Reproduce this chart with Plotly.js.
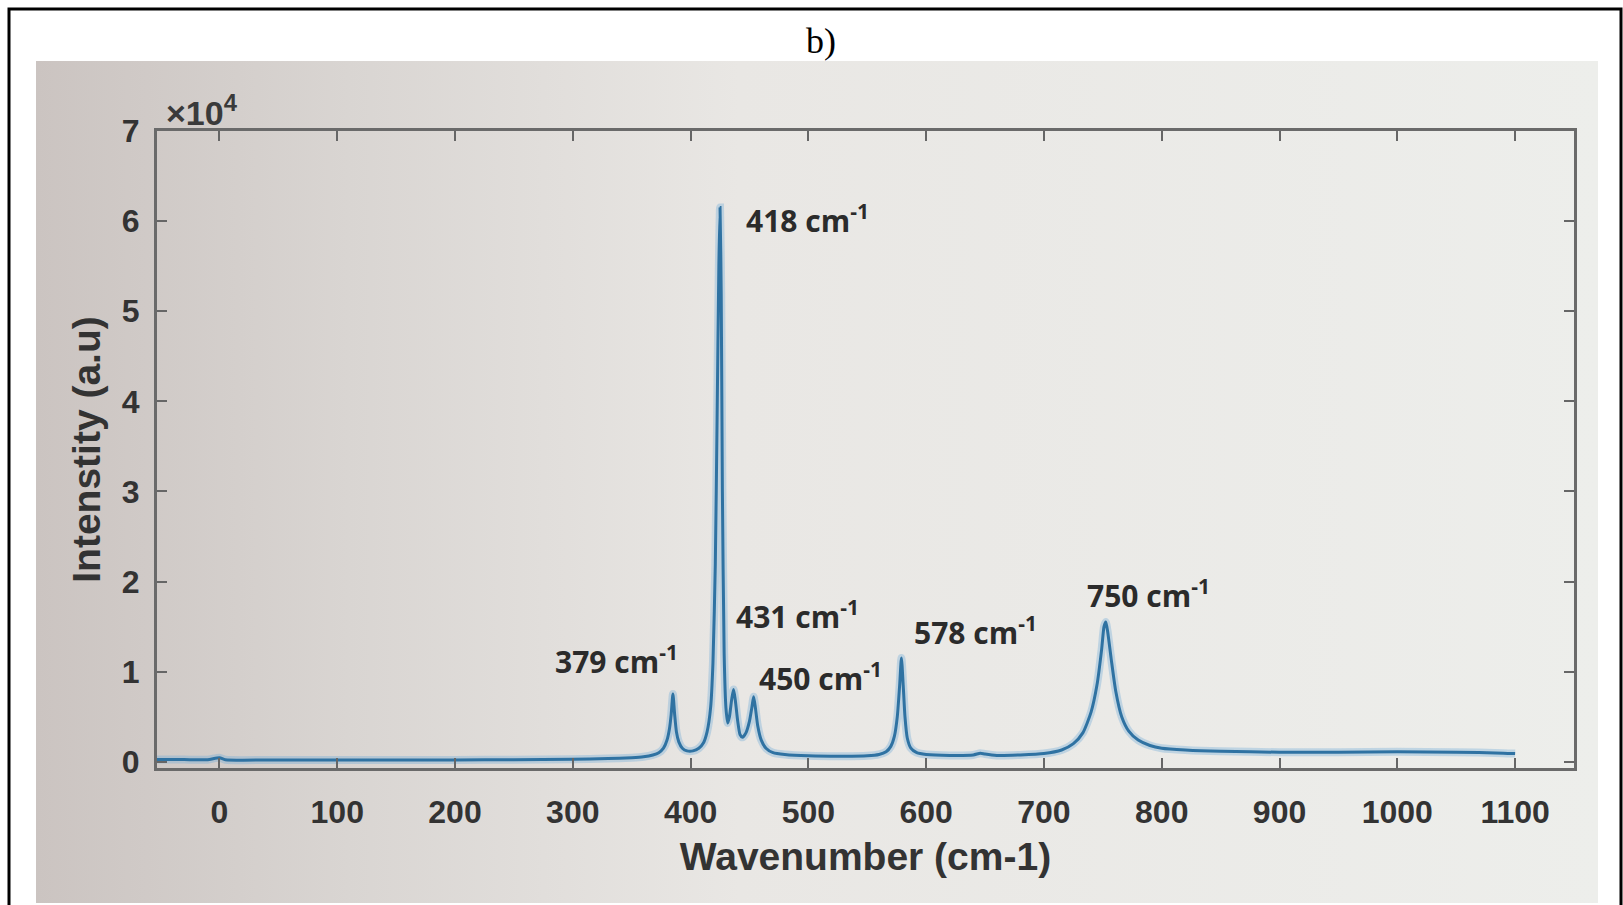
<!DOCTYPE html>
<html>
<head>
<meta charset="utf-8">
<script src="https://cdn.plot.ly/plotly-3.0.1.min.js"></script>
<style>html,body{margin:0;padding:0;background:#fff;}#chart{width:1623px;height:905px;}</style>
</head>
<body>
<div id="chart"></div>
<script>
// Raman spectrum (wavenumber in cm-1, intensity in a.u.)
const wavenumber = [-53,-30,-10,0,5,50,100,150,200,250,300,330,350,360,368,373,377,380,382,383.5,385,386.5,388,390,393,397,402,407,411,414,417,419,421,422.5,424,425,426,427,428.5,430,431.5,433,435,436.5,438,440,442,444,447,450,452,453.5,455,457,460,464,470,480,500,530,550,560,566,570,573,575.5,577.5,579,580.5,582,584,587,592,600,620,640,646,650,660,680,700,715,725,733,740,745,749,751,752.5,754,757,761,766,772,780,790,800,820,850,900,950,1000,1050,1090,1100];
const intensity  = [250,230,220,450,220,200,200,190,200,220,280,350,450,550,750,1000,1500,2400,3600,5200,7500,5200,3300,2200,1500,1200,1200,1500,2100,3300,6000,11000,22000,38000,55000,61500,52000,30000,12000,6000,4300,5000,7000,8000,6800,4500,3000,2700,3200,4500,6000,7200,6000,4000,2400,1500,1000,800,650,600,650,800,1100,1700,2800,5000,8500,11500,8500,5000,2600,1500,1000,800,700,750,950,850,700,750,900,1300,2000,3200,5500,8500,12500,15000,15500,14500,11500,7800,5000,3400,2400,1800,1500,1300,1150,1050,1050,1100,1050,950,900];

// Peak labels
const peakLabels = ["418", "431", "379", "450", "578", "750"];
const labelX = [445, 437, 283, 456, 588, 735];
const labelY = [60200, 16300, 11300, 9350, 14550, 18600];

const xTicks = [0,100,200,300,400,500,600,700,800,900,1000,1100];
const yTicks = [0,10000,20000,30000,40000,50000,60000,70000];
const yTickText = ["0","1","2","3","4","5","6","7"];

const W = 1623, H = 905;
const px = v => v / W, py = v => 1 - v / H;

const bgSvg = '<svg xmlns="http://www.w3.org/2000/svg" width="100" height="100" preserveAspectRatio="none"><defs><linearGradient id="g" x1="0" y1="0" x2="1" y2="0"><stop offset="0" stop-color="#cbc4c1"/><stop offset="0.2" stop-color="#d9d5d2"/><stop offset="0.45" stop-color="#e9e7e4"/><stop offset="1" stop-color="#edeeeb"/></linearGradient></defs><rect width="100" height="100" fill="url(#g)"/></svg>';
const bgUri = 'data:image/svg+xml;base64,' + btoa(bgSvg);

const tickFont = {family: "Liberation Sans, Arial, sans-serif", size: 32, color: "#333333", weight: "bold"};
const annFont = {family: "Open Sans, sans-serif", size: 30, color: "#2b2b2b", weight: "bold"};

const traces = [
  {x: wavenumber, y: intensity, type: "scatter", mode: "lines",
   line: {color: "rgba(110,170,215,0.35)", width: 8, shape: "spline", smoothing: 0.6},
   hoverinfo: "skip", showlegend: false},
  {x: wavenumber, y: intensity, type: "scatter", mode: "lines",
   line: {color: "#2f72a2", width: 3, shape: "spline", smoothing: 0.6},
   showlegend: false}
];

const annotations = peakLabels.map((p, i) => ({
  x: labelX[i], y: labelY[i], xref: "x", yref: "y",
  text: p + " cm<sup>-1</sup>", showarrow: false,
  xanchor: "left", yanchor: "middle", font: annFont
}));
annotations.push({
  x: px(821), y: py(41), xref: "paper", yref: "paper", text: "b)", showarrow: false,
  xanchor: "center", yanchor: "middle",
  font: {family: "Liberation Serif, Times New Roman, serif", size: 36, color: "#000"}
});
annotations.push({
  x: px(164), y: py(110), xref: "paper", yref: "paper", text: "×10<sup>4</sup>", showarrow: false,
  xanchor: "left", yanchor: "middle",
  font: {family: "Liberation Sans, Arial, sans-serif", size: 34, color: "#3a3a3a", weight: "bold"}
});

const layout = {
  width: W, height: H,
  margin: {l: 0, r: 0, t: 0, b: 0},
  paper_bgcolor: "#ffffff",
  plot_bgcolor: "rgba(0,0,0,0)",
  showlegend: false,
  images: [{source: bgUri, xref: "paper", yref: "paper",
            x: px(36), y: py(61), sizex: px(1598) - px(36), sizey: py(61) - py(903),
            xanchor: "left", yanchor: "top", sizing: "stretch", layer: "below"}],
  shapes: [{type: "rect", xref: "paper", yref: "paper",
            x0: px(9), x1: px(1621), y0: -0.02, y1: py(9),
            line: {color: "#000", width: 3}, fillcolor: "rgba(0,0,0,0)", layer: "above"}],
  xaxis: {
    domain: [px(157), px(1574)], range: [-53, 1150],
    tickvals: xTicks, ticks: "inside", ticklen: 10, tickwidth: 2, tickcolor: "#666",
    showline: true, linecolor: "#6a6a6a", linewidth: 3, mirror: "ticks",
    showgrid: false, zeroline: false, tickfont: tickFont, ticklabelstandoff: 14,
    title: {text: "Wavenumber (cm-1)", font: {family: "Liberation Sans, Arial, sans-serif", size: 39, color: "#333", weight: "bold"}, standoff: 14}
  },
  yaxis: {
    domain: [py(768), py(131)], range: [-700, 70000],
    tickvals: yTicks, ticktext: yTickText, ticks: "inside", ticklen: 10, tickwidth: 2, tickcolor: "#666",
    showline: true, linecolor: "#6a6a6a", linewidth: 3, mirror: "ticks",
    showgrid: false, zeroline: false, tickfont: tickFont, ticklabelstandoff: 8,
    title: {text: "Intenstity (a.u)", font: {family: "Liberation Sans, Arial, sans-serif", size: 39, color: "#333", weight: "bold"}, standoff: 10}
  },
  annotations: annotations
};

Plotly.newPlot("chart", traces, layout, {displayModeBar: false, staticPlot: true});
</script>
</body>
</html>
